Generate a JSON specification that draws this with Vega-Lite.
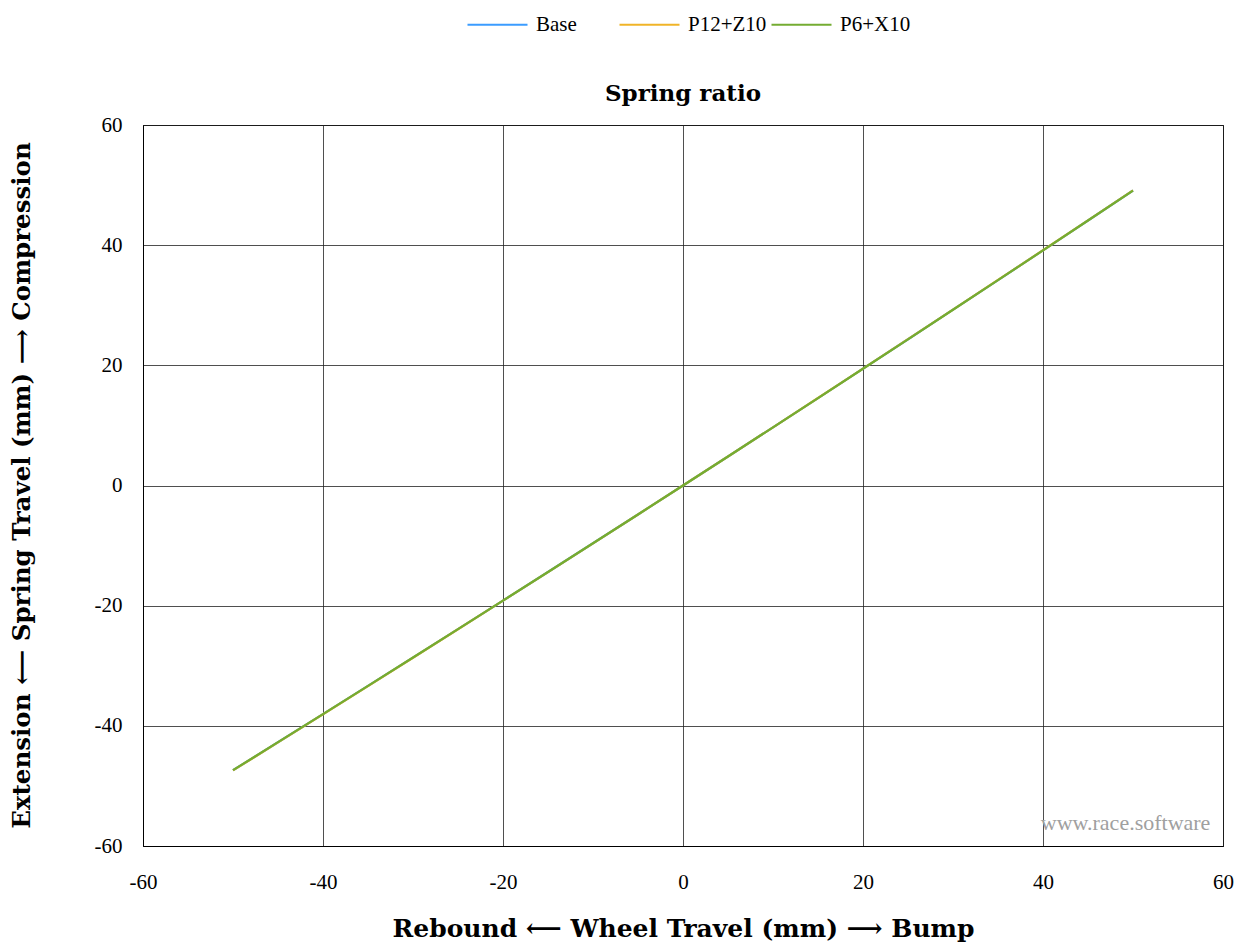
{
  "$schema": "https://vega.github.io/schema/vega-lite/v6.json",
  "width": 1080,
  "height": 721,
  "autosize": {"type": "none"},
  "padding": {"left": 143, "top": 125, "right": 17, "bottom": 98},
  "background": "white",
  "config": {
    "font": "Liberation Serif",
    "view": {"stroke": "black", "strokeWidth": 1},
    "axis": {
      "grid": true,
      "gridColor": "#222222",
      "gridWidth": 0.8,
      "gridOpacity": 1,
      "domainColor": "black",
      "ticks": false,
      "labelFlush": false,
      "labelFont": "Liberation Serif",
      "labelFontSize": 21,
      "labelColor": "black",
      "titleFont": "DejaVu Serif",
      "titleFontWeight": "bold",
      "titleColor": "black"
    }
  },
  "title": {
    "text": "Spring ratio",
    "fontSize": 23,
    "fontWeight": "bold",
    "font": "DejaVu Serif",
    "color": "black",
    "offset": 20,
    "dy": 133,
    "anchor": "middle"
  },
  "datasets": {
    "curves": [
      {"series": "Base", "wheel": -50, "spring": -47.40},
      {"series": "Base", "wheel": -45, "spring": -42.74},
      {"series": "Base", "wheel": -40, "spring": -38.06},
      {"series": "Base", "wheel": -35, "spring": -33.36},
      {"series": "Base", "wheel": -30, "spring": -28.64},
      {"series": "Base", "wheel": -25, "spring": -23.91},
      {"series": "Base", "wheel": -20, "spring": -19.16},
      {"series": "Base", "wheel": -15, "spring": -14.40},
      {"series": "Base", "wheel": -10, "spring": -9.62},
      {"series": "Base", "wheel": -5, "spring": -4.82},
      {"series": "Base", "wheel": 0, "spring": 0},
      {"series": "Base", "wheel": 5, "spring": 4.83},
      {"series": "Base", "wheel": 10, "spring": 9.68},
      {"series": "Base", "wheel": 15, "spring": 14.55},
      {"series": "Base", "wheel": 20, "spring": 19.44},
      {"series": "Base", "wheel": 25, "spring": 24.34},
      {"series": "Base", "wheel": 30, "spring": 29.26},
      {"series": "Base", "wheel": 35, "spring": 34.19},
      {"series": "Base", "wheel": 40, "spring": 39.14},
      {"series": "Base", "wheel": 45, "spring": 44.11},
      {"series": "Base", "wheel": 50, "spring": 49.10},
      {"series": "P12+Z10", "wheel": -50, "spring": -47.42},
      {"series": "P12+Z10", "wheel": -45, "spring": -42.76},
      {"series": "P12+Z10", "wheel": -40, "spring": -38.08},
      {"series": "P12+Z10", "wheel": -35, "spring": -33.38},
      {"series": "P12+Z10", "wheel": -30, "spring": -28.66},
      {"series": "P12+Z10", "wheel": -25, "spring": -23.92},
      {"series": "P12+Z10", "wheel": -20, "spring": -19.17},
      {"series": "P12+Z10", "wheel": -15, "spring": -14.41},
      {"series": "P12+Z10", "wheel": -10, "spring": -9.63},
      {"series": "P12+Z10", "wheel": -5, "spring": -4.82},
      {"series": "P12+Z10", "wheel": 0, "spring": 0},
      {"series": "P12+Z10", "wheel": 5, "spring": 4.83},
      {"series": "P12+Z10", "wheel": 10, "spring": 9.68},
      {"series": "P12+Z10", "wheel": 15, "spring": 14.56},
      {"series": "P12+Z10", "wheel": 20, "spring": 19.45},
      {"series": "P12+Z10", "wheel": 25, "spring": 24.35},
      {"series": "P12+Z10", "wheel": 30, "spring": 29.27},
      {"series": "P12+Z10", "wheel": 35, "spring": 34.21},
      {"series": "P12+Z10", "wheel": 40, "spring": 39.16},
      {"series": "P12+Z10", "wheel": 45, "spring": 44.13},
      {"series": "P12+Z10", "wheel": 50, "spring": 49.12},
      {"series": "P6+X10", "wheel": -50, "spring": -47.38},
      {"series": "P6+X10", "wheel": -45, "spring": -42.72},
      {"series": "P6+X10", "wheel": -40, "spring": -38.05},
      {"series": "P6+X10", "wheel": -35, "spring": -33.35},
      {"series": "P6+X10", "wheel": -30, "spring": -28.63},
      {"series": "P6+X10", "wheel": -25, "spring": -23.90},
      {"series": "P6+X10", "wheel": -20, "spring": -19.15},
      {"series": "P6+X10", "wheel": -15, "spring": -14.39},
      {"series": "P6+X10", "wheel": -10, "spring": -9.62},
      {"series": "P6+X10", "wheel": -5, "spring": -4.82},
      {"series": "P6+X10", "wheel": 0, "spring": 0},
      {"series": "P6+X10", "wheel": 5, "spring": 4.83},
      {"series": "P6+X10", "wheel": 10, "spring": 9.68},
      {"series": "P6+X10", "wheel": 15, "spring": 14.55},
      {"series": "P6+X10", "wheel": 20, "spring": 19.43},
      {"series": "P6+X10", "wheel": 25, "spring": 24.33},
      {"series": "P6+X10", "wheel": 30, "spring": 29.25},
      {"series": "P6+X10", "wheel": 35, "spring": 34.18},
      {"series": "P6+X10", "wheel": 40, "spring": 39.13},
      {"series": "P6+X10", "wheel": 45, "spring": 44.10},
      {"series": "P6+X10", "wheel": 50, "spring": 49.09}
    ],
    "mark": [
      {"label": "www.race.software", "wheel": 58.6, "spring": -56.2}
    ]
  },
  "layer": [
    {
      "data": {"name": "curves"},
      "mark": {"type": "line", "strokeWidth": 2.2, "clip": true},
      "encoding": {
        "x": {
          "field": "wheel",
          "type": "quantitative",
          "scale": {"domain": [-60, 60], "nice": false, "zero": false},
          "axis": {
            "values": [-60, -40, -20, 0, 20, 40, 60],
            "labelExpr": "'' + datum.value",
            "labelPadding": 25,
            "title": "Rebound ⟵ Wheel Travel (mm) ⟶ Bump",
            "titleFontSize": 25,
            "titleX": 540,
            "titleY": 82,
            "titleAlign": "center",
            "titleBaseline": "middle"
          }
        },
        "y": {
          "field": "spring",
          "type": "quantitative",
          "scale": {"domain": [-60, 60], "nice": false, "zero": false},
          "axis": {
            "values": [-60, -40, -20, 0, 20, 40, 60],
            "labelExpr": "'' + datum.value",
            "labelPadding": 21,
            "title": "Extension ⟵ Spring Travel (mm) ⟶ Compression",
            "titleFontSize": 24.5,
            "titleX": -121,
            "titleY": 360,
            "titleAngle": -90,
            "titleAlign": "center",
            "titleBaseline": "middle"
          }
        },
        "color": {
          "field": "series",
          "type": "nominal",
          "sort": ["Base", "P12+Z10", "P6+X10"],
          "scale": {
            "domain": ["Base", "P12+Z10", "P6+X10"],
            "range": ["#3b9cff", "#f0b428", "#74ac32"]
          },
          "legend": {
            "title": null,
            "orient": "none",
            "legendX": 323,
            "legendY": -132,
            "direction": "horizontal",
            "columns": 3,
            "gridAlign": "all",
            "columnPadding": 0,
            "symbolType": "stroke",
            "symbolSize": 3600,
            "symbolStrokeWidth": 2.2,
            "labelFont": "Liberation Serif",
            "labelFontSize": 21,
            "labelColor": "black",
            "labelOffset": 7
          }
        }
      }
    },
    {
      "data": {"name": "mark"},
      "mark": {"type": "text", "align": "right", "baseline": "middle", "fontSize": 22, "color": "#a0a0a0", "font": "Liberation Serif"},
      "encoding": {
        "x": {"field": "wheel", "type": "quantitative"},
        "y": {"field": "spring", "type": "quantitative"},
        "text": {"field": "label"}
      }
    }
  ]
}
